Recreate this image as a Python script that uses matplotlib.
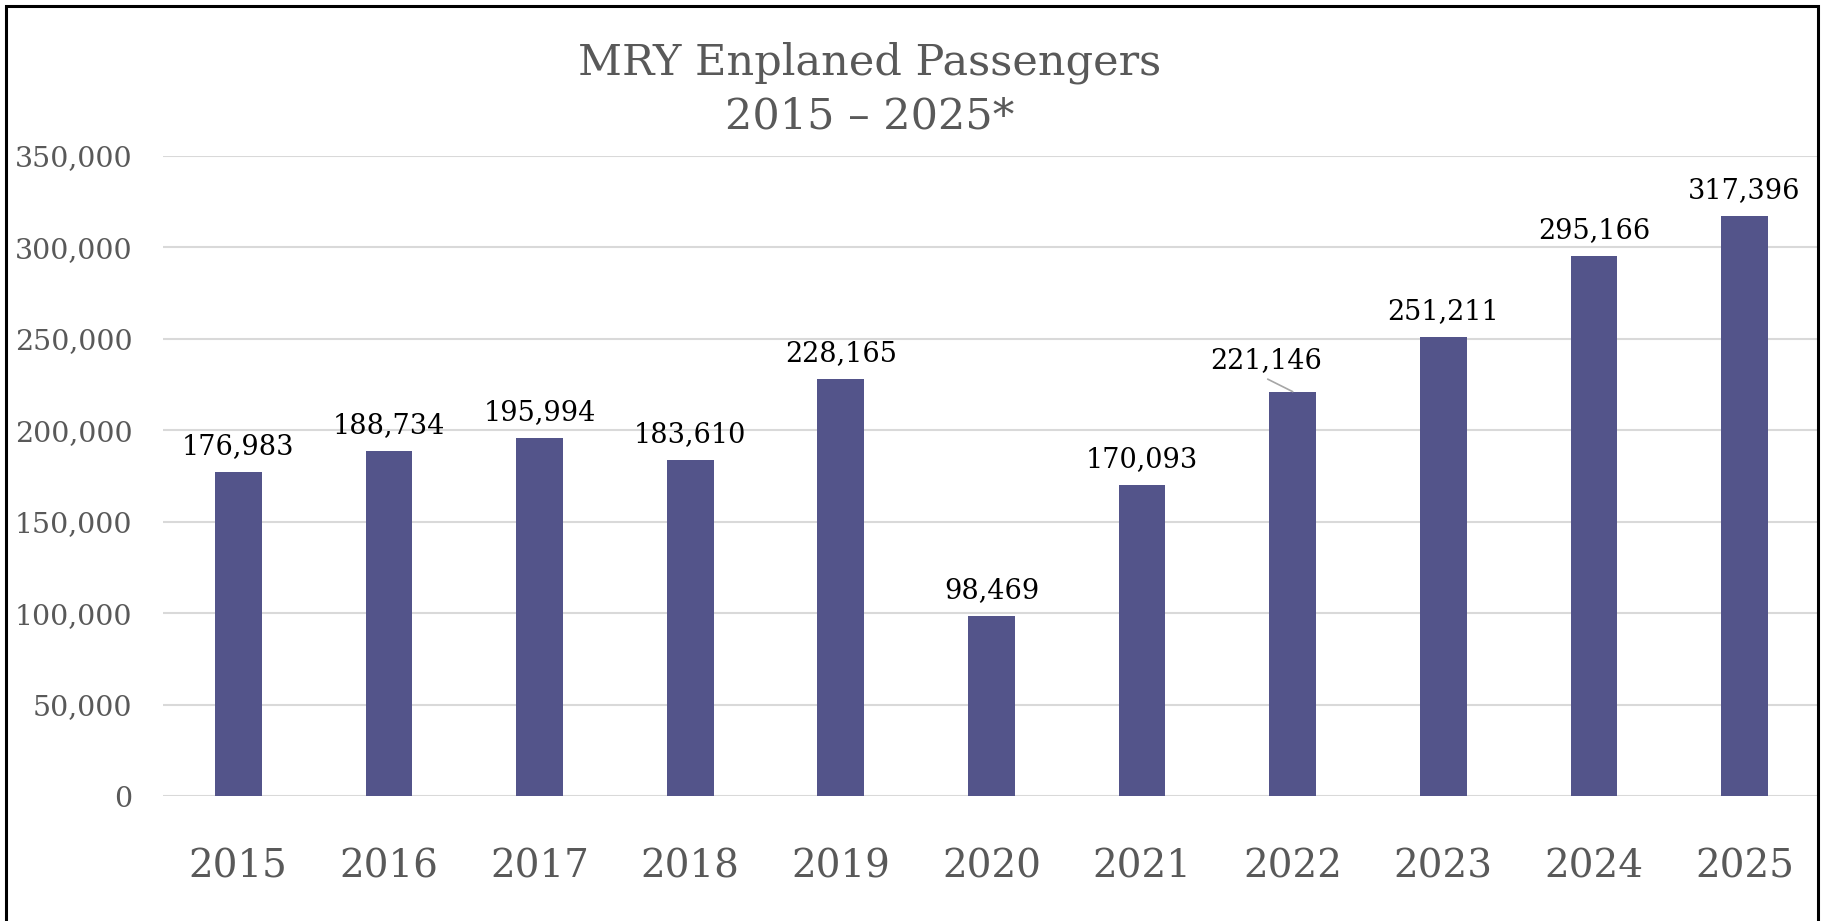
import matplotlib.pyplot as plt
from matplotlib.patches import Rectangle
from matplotlib.ticker import FuncFormatter

# enplaned passengers per year
years = ['2015', '2016', '2017', '2018', '2019', '2020',
         '2021', '2022', '2023', '2024', '2025']
passengers = [176983, 188734, 195994, 183610, 228165, 98469,
              170093, 221146, 251211, 295166, 317396]
yticks = [0, 50000, 100000, 150000, 200000, 250000, 300000, 350000]

plt.rcParams['font.family'] = ['DejaVu Serif']

fig = plt.figure(figsize=(18.25, 9.21), dpi=100)
ax = fig.add_axes([0.0893, 0.1357, 0.9079, 0.6949])

x = list(range(len(years)))
ax.bar(x, passengers, width=0.31, color='#53548A', zorder=3)

ax.set_xlim(-0.5, 10.5)
ax.set_ylim(0, 350000)
ax.set_yticks(yticks)
ax.yaxis.set_major_formatter(FuncFormatter(lambda v, p: f'{int(v):,}'))
ax.set_xticks(x)
ax.set_xticklabels(years)
ax.grid(axis='y', color='#D9D9D9', linewidth=1.5, zorder=0)
for s in ax.spines.values():
    s.set_visible(False)
ax.tick_params(axis='y', length=0, labelsize=20.5, labelcolor='#595959', pad=22)
ax.tick_params(axis='x', length=0, labelsize=28, labelcolor='#595959', pad=38)

# data labels, 2022 pulled to the left with a leader line
for i, v in enumerate(passengers):
    if years[i] == '2022':
        ax.annotate(f'{v:,}', xy=(i, v), xytext=(-19, 17), textcoords='offset points',
                    ha='center', va='baseline', fontsize=19.5, color='black',
                    annotation_clip=False)
        ax.annotate('', xy=(i, v), xytext=(-18, 9), textcoords='offset points',
                    arrowprops=dict(arrowstyle='-', color='#A6A6A6', lw=1.2,
                                    shrinkA=0, shrinkB=0))
    else:
        ax.annotate(f'{v:,}', xy=(i, v), xytext=(0, 13), textcoords='offset points',
                    ha='center', va='baseline', fontsize=19.5, color='black',
                    annotation_clip=False)

fig.text(0.4767, 1 - 74 / 921, 'MRY Enplaned Passengers', ha='center', va='baseline',
         fontsize=31, color='#595959')
fig.text(0.4767, 1 - 128 / 921, '2015 \u2013 2025*', ha='center', va='baseline',
         fontsize=31, color='#595959')

# outer frame (bottom edge runs off the picture)
fig.patches.append(Rectangle((6 / 1825, -0.02), (1818 - 6) / 1825, 1.02 - 6 / 921,
                             transform=fig.transFigure, fill=False,
                             edgecolor='black', linewidth=2.2))

fig.savefig('out.png', dpi=100)
